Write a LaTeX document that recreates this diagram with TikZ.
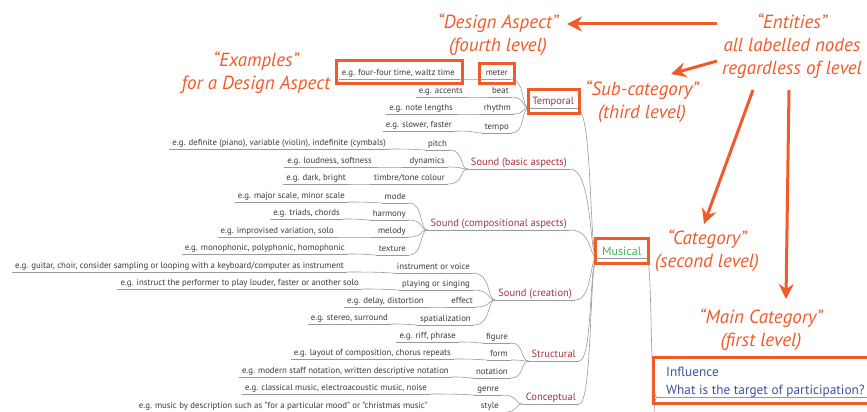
\documentclass[tikz,border=0pt]{standalone}
\usepackage{fontspec}
\setmainfont{PT Sans}
\usetikzlibrary{arrows.meta,calc}
\definecolor{ora}{HTML}{F15A29}
\definecolor{subred}{HTML}{A83240}
\definecolor{musgreen}{HTML}{3DB54A}
\definecolor{infblue}{HTML}{3F51A3}
\definecolor{txtgray}{HTML}{3A3A3A}
\definecolor{lngray}{HTML}{9A9A9A}
\tikzset{
  conn/.style={draw=lngray, line width=0.6pt},
  ul/.style={append after command={(\tikzlastnode.south west) edge[conn] (\tikzlastnode.south east)}},
  ex/.style={ul, anchor=south east, inner xsep=3pt, inner ysep=1.2pt, text=txtgray,
    font=\fontsize{8.8}{10}\selectfont, text height=6.6pt, text depth=2.2pt},
  sub/.style={ul, anchor=south east, inner xsep=3pt, inner ysep=0.8pt, text=subred,
    font=\fontsize{10.5}{12}\selectfont, text height=7.8pt, text depth=2.4pt},
  ann/.style={text=ora, font=\fontsize{19}{23}\selectfont\itshape, align=center, inner sep=0pt},
  obox/.style={draw=ora, line width=3pt},
  arr/.style={draw=ora, line width=3pt, -{Stealth[length=15pt,width=15pt,inset=5pt]}}
}
\newcommand\mmlink[2]{\draw[conn] (#1.south east) .. controls ($(#2.south west |- #1.south east)+(-4,0)$) and ($(#2.south west)+(-8,0)$) .. (#2.south west);}
\begin{document}
\begin{tikzpicture}[x=1pt,y=-1pt]
\useasboundingbox (0,0) rectangle (867,412);
\clip (0,0) rectangle (867,412);
% root and category
\node[ul, anchor=south west, inner xsep=9pt, inner ysep=0pt, text=infblue, align=left,
  font=\fontsize{13.3}{18}\selectfont] (infl) at (657,397.5) {Influence\\What is the target of participation?};
\node[sub, anchor=south west, inner xsep=5pt, inner ysep=0.4pt, text=musgreen,
  font=\fontsize{12}{14}\selectfont, text height=8.6pt, text depth=2.4pt] (mus) at (597,258) {Musical};
% sub-categories
\node[sub] (temp) at (577,108) {Temporal};
\node[sub] (sba) at (570,169) {Sound (basic aspects)};
\node[sub] (sca) at (570,230) {Sound (compositional aspects)};
\node[sub] (scr) at (575,300) {Sound (creation)};
\node[sub] (str) at (579,361) {Structural};
\node[sub] (con) at (579,404) {Conceptual};
% design aspects
\node[ex] (meter) at (511,79) {meter};
\node[ex] (beat) at (512,97) {beat};
\node[ex] (rhythm) at (514,114) {rhythm};
\node[ex] (tempo) at (512,133) {tempo};
\node[ex] (pitch) at (450,150) {pitch};
\node[ex] (dyn) at (448,167) {dynamics};
\node[ex] (timbre) at (448,184) {timbre/tone colour};
\node[ex] (mode) at (409,203) {mode};
\node[ex] (harm) at (409,220) {harmony};
\node[ex] (mel) at (409,237) {melody};
\node[ex] (tex) at (409,255) {texture};
\node[ex] (instr) at (473,273) {instrument or voice};
\node[ex] (play) at (473,290) {playing or singing};
\node[ex] (eff) at (476,307) {effect};
\node[ex] (spat) at (474,325) {spatialization};
\node[ex] (fig) at (511,343) {figure};
\node[ex] (form) at (511,360) {form};
\node[ex] (nota) at (511,378) {notation};
\node[ex] (genre) at (502,395) {genre};
\node[ex] (style) at (502,412.5) {style};
% examples
\node[ex] (e1) at (458,79) {e.g. four-four time, waltz time};
\node[ex] (e2) at (466,97) {e.g. accents};
\node[ex] (e3) at (456,114) {e.g. note lengths};
\node[ex] (e4) at (455,131) {e.g. slower, faster};
\node[ex] (e5) at (389,149) {e.g. definite (piano), variable (violin), indefinite (cymbals)};
\node[ex] (e6) at (375,167) {e.g. loudness, softness};
\node[ex] (e7) at (349,184) {e.g. dark, bright};
\node[ex] (e8) at (348,202) {e.g. major scale, minor scale};
\node[ex] (e9) at (343,219) {e.g. triads, chords};
\node[ex] (e10) at (337,237) {e.g. improvised variation, solo};
\node[ex] (e11) at (348,254) {e.g. monophonic, polyphonic, homophonic};
\node[ex] (e12) at (347,272) {e.g. guitar, choir, consider sampling or looping with a keyboard/computer as instrument};
\node[ex] (e13) at (362,289) {e.g. instruct the performer to play louder, faster or another solo};
\node[ex] (e14) at (427,307) {e.g. delay, distortion};
\node[ex] (e15) at (391,324) {e.g. stereo, surround};
\node[ex] (e16) at (459,342) {e.g. riff, phrase};
\node[ex] (e17) at (454,359) {e.g. layout of composition, chorus repeats};
\node[ex] (e18) at (452,377) {e.g. modern staff notation, written descriptive notation};
\node[ex] (e19) at (430,394) {e.g. classical music, electroacoustic music, noise};
\node[ex] (e20) at (431,412.5) {e.g. music by description such as "for a particular mood" or "christmas music"};
% connectors
\mmlink{mus}{infl}
\coordinate (infdown) at (654,420);
\draw[conn] (infl.south west) .. controls +(-3,0) and +(0,-6) .. (infdown);
\foreach \c in {temp,sba,sca,scr,str,con} {\mmlink{\c}{mus}}
\foreach \c in {meter,beat,rhythm,tempo} {\mmlink{\c}{temp}}
\foreach \c in {pitch,dyn,timbre} {\mmlink{\c}{sba}}
\foreach \c in {mode,harm,mel,tex} {\mmlink{\c}{sca}}
\foreach \c in {instr,play,eff,spat} {\mmlink{\c}{scr}}
\foreach \c in {fig,form,nota} {\mmlink{\c}{str}}
\foreach \c in {genre,style} {\mmlink{\c}{con}}
\mmlink{e1}{meter}\mmlink{e2}{beat}\mmlink{e3}{rhythm}\mmlink{e4}{tempo}
\mmlink{e5}{pitch}\mmlink{e6}{dyn}\mmlink{e7}{timbre}
\mmlink{e8}{mode}\mmlink{e9}{harm}\mmlink{e10}{mel}\mmlink{e11}{tex}
\mmlink{e12}{instr}\mmlink{e13}{play}\mmlink{e14}{eff}\mmlink{e15}{spat}
\mmlink{e16}{fig}\mmlink{e17}{form}\mmlink{e18}{nota}
\mmlink{e19}{genre}\mmlink{e20}{style}
% highlight boxes
\draw[obox] (336,61) rectangle (462,83);
\draw[obox] (479,64) rectangle (514,83);
\draw[obox] (528,89) rectangle (579,113);
\draw[obox] (595,238) rectangle (648,263);
\draw[obox] (653,357) rectangle (875,403);
% annotations
\node[ann] (des) at (498,35) {“Design Aspect”\\(fourth level)};
\node[ann] (exa) at (256,72.5) {“Examples”\\for a Design Aspect};
\node[ann] (ent) at (792,46.5) {“Entities”\\all labelled nodes\\regardless of level};
\node[ann] (subc) at (642,102) {“Sub-category”\\(third level)};
\node[ann] (cat) at (707,251) {“Category”\\(second level)};
\node[ann] (mainc) at (761,330) {“Main Category”\\(first level)};
\coordinate (a1s) at (717,24); \coordinate (a1e) at (567,24);
\coordinate (a2s) at (717,61); \coordinate (a2e) at (671,74);
\coordinate (a3s) at (753,90); \coordinate (a3e) at (704,224);
\coordinate (a4s) at (789,90); \coordinate (a4e) at (786,299);
\draw[arr] (a1s) -- (a1e);
\draw[arr] (a2s) -- (a2e);
\draw[arr] (a3s) -- (a3e);
\draw[arr] (a4s) -- (a4e);
\end{tikzpicture}
\end{document}
